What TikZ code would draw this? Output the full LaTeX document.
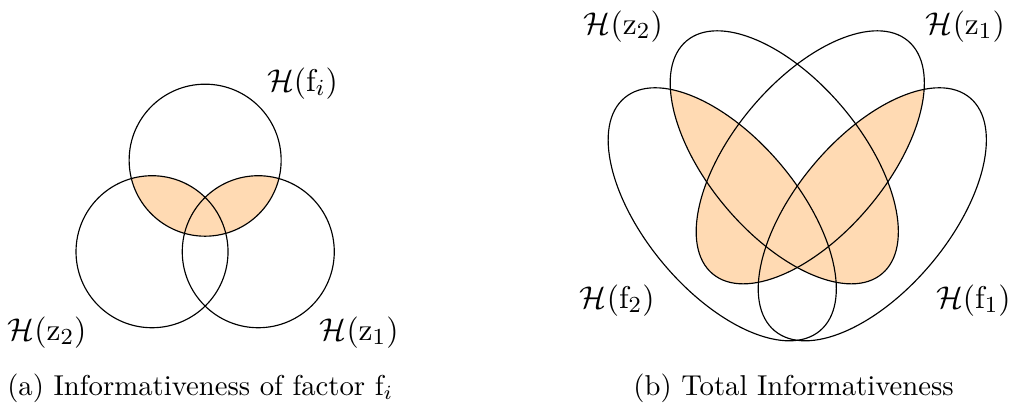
\documentclass[tikz,border=0pt]{standalone}
\usepackage{amsmath}
\usepackage{amssymb}
\usepackage{tikz}
\usetikzlibrary{positioning}
\usepackage{xcolor}
\definecolor{infopeach}{RGB}{255, 218, 179}

% sets of the single factor
\newcommand{\circfi}{(2.51,3.00) circle (0.93)}
\newcommand{\circzleft}{(1.86,1.88) circle (0.93)}
\newcommand{\circzright}{(3.16,1.88) circle (0.93)}
% sets of both factors
\newcommand{\ellztwo}{(9.596,3.035) ellipse [x radius=1.86, y radius=0.94, rotate=130]}
\newcommand{\ellzone}{(9.914,3.035) ellipse [x radius=1.86, y radius=0.94, rotate=50]}
\newcommand{\ellftwo}{(8.837,2.338) ellipse [x radius=1.86, y radius=0.94, rotate=130]}
\newcommand{\ellfone}{(10.673,2.338) ellipse [x radius=1.86, y radius=0.94, rotate=50]}

\begin{document}
\begin{tikzpicture}
    \tikzstyle{setline} = [draw=black, line width=0.4pt]
    \tikzstyle{setlabel} = [font=\fontsize{10.95}{13}\selectfont]
    \tikzstyle{subcap} = [anchor=base]

    \useasboundingbox (0,0) rectangle (12.37,4.96);

    % (a) one factor
    \begin{scope}
        \clip \circfi;
        \fill[infopeach] \circzleft;
        \fill[infopeach] \circzright;
    \end{scope}
    \draw[setline] \circfi;
    \draw[setline] \circzleft;
    \draw[setline] \circzright;

    \node (hfi) [setlabel] at (3.70,3.94) {$\mathcal{H}(\mathrm{f}_i)$};
    \node (hza) [setlabel] at (0.575,0.894) {$\mathcal{H}(\mathrm{z}_2)$};
    \node (hzb) [setlabel] at (4.394,0.894) {$\mathcal{H}(\mathrm{z}_1)$};
    \node (capa) [subcap] at (2.45,0.122) {(a) Informativeness of factor $\mathrm{f}_i$};

    % (b) all factors
    \begin{scope}
        \clip \ellftwo;
        \fill[infopeach] \ellzone;
        \fill[infopeach] \ellztwo;
    \end{scope}
    \begin{scope}
        \clip \ellfone;
        \fill[infopeach] \ellzone;
        \fill[infopeach] \ellztwo;
    \end{scope}
    \draw[setline] \ellztwo;
    \draw[setline] \ellzone;
    \draw[setline] \ellftwo;
    \draw[setline] \ellfone;

    \node (hztwo) [setlabel] at (7.626,4.639) {$\mathcal{H}(\mathrm{z}_2)$};
    \node (hzone) [setlabel] at (11.812,4.639) {$\mathcal{H}(\mathrm{z}_1)$};
    \node (hftwo) [setlabel] at (7.552,1.285) {$\mathcal{H}(\mathrm{f}_2)$};
    \node (hfone) [setlabel] at (11.910,1.285) {$\mathcal{H}(\mathrm{f}_1)$};
    \node (capb) [subcap] at (9.71,0.122) {(b) Total Informativeness};
\end{tikzpicture}
\end{document}
